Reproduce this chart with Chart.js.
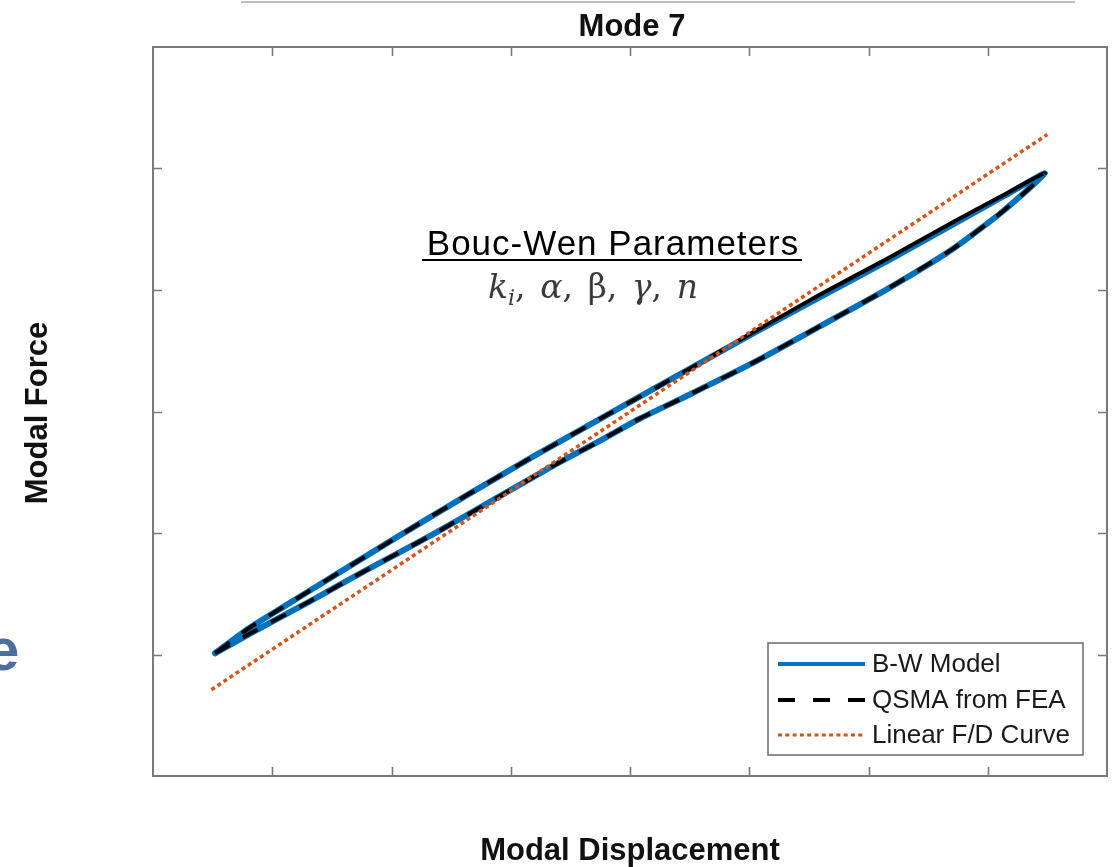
<!DOCTYPE html>
<html>
<head>
<meta charset="utf-8">
<title>Mode 7</title>
<script src="https://cdn.jsdelivr.net/npm/chart.js@4.4.1/dist/chart.umd.min.js"></script>
<style>
  html, body { margin: 0; padding: 0; background: #fff; overflow: hidden; }
  canvas { display: block; }
</style>
</head>
<body>
<canvas id="grafico" width="1115" height="867"></canvas>
<script>
// DATOS: rama inferior (carga) y superior (descarga) del lazo
const desplInf = [0.52, 0.81, 1.32, 1.80, 2.35, 2.85, 3.35, 3.75, 4.08, 4.48, 5.03, 5.59, 6.16, 6.71, 7.13, 7.48];
const desplSup = [0.52, 0.81, 1.09, 1.57, 2.07, 2.63, 3.19, 3.75, 4.48, 5.03, 5.59, 6.16, 6.71, 7.13, 7.48];

const fuerzaInfBW = [1.01, 1.17, 1.44, 1.70, 1.99, 2.27, 2.55, 2.76, 2.94, 3.13, 3.40, 3.70, 4.01, 4.34, 4.65, 4.96];
const fuerzaSupBW = [1.01, 1.22, 1.39, 1.68, 1.98, 2.31, 2.63, 2.94, 3.34, 3.64, 3.94, 4.24, 4.54, 4.77, 4.96];

const fuerzaInfQSMA = [1.01, 1.17, 1.44, 1.70, 1.99, 2.27, 2.55, 2.76, 2.94, 3.13, 3.40, 3.70, 4.01, 4.34, 4.65, 4.96];
const fuerzaSupQSMA = [1.01, 1.22, 1.39, 1.68, 1.98, 2.31, 2.63, 2.94, 3.34, 3.65, 3.96, 4.26, 4.56, 4.78, 4.96];

// recta F/D lineal
const desplLineal = [0.49, 7.50];
const fuerzaLineal = [0.71, 5.28];

const ticksX = [1, 2, 3, 4, 5, 6, 7];
const ticksY = [1, 2, 3, 4, 5];

// FUNCIONES:
function lazo(xInf, yInf, xSup, ySup) {
    const puntos = xInf.map((x, i) => ({ x: x, y: yInf[i] }));
    for (let i = xSup.length - 2; i >= 0; i--) {
        puntos.push({ x: xSup[i], y: ySup[i] });
    }
    return puntos;
}

function recta(xs, ys) {
    return xs.map((x, i) => ({ x: x, y: ys[i] }));
}

// tramo de vuelta (rama superior, lado derecho) que se ve continuo
const inicioVuelta = desplInf.length - 1;
function tramoContinuo(ctx) {
    if (ctx.p0DataIndex >= inicioVuelta && ctx.p1DataIndex <= inicioVuelta + 5) return [];
    return undefined;
}

const GRIS = '#7a7a7a';

const marco = {
    id: 'marco',
    afterDatasetsDraw(chart) {
        const c = chart.ctx;
        const a = chart.chartArea;
        const sx = chart.scales.x;
        const sy = chart.scales.y;
        c.save();
        c.strokeStyle = GRIS;
        c.lineWidth = 2;
        c.setLineDash([]);
        c.strokeRect(a.left, a.top, a.right - a.left, a.bottom - a.top);

        // marcas hacia dentro en los cuatro lados
        const largo = 9;
        c.beginPath();
        ticksX.forEach(v => {
            const px = Math.round(sx.getPixelForValue(v)) + 0.5;
            c.moveTo(px, a.bottom); c.lineTo(px, a.bottom - largo);
            c.moveTo(px, a.top); c.lineTo(px, a.top + largo);
        });
        ticksY.forEach(v => {
            const py = Math.round(sy.getPixelForValue(v)) + 0.5;
            c.moveTo(a.left, py); c.lineTo(a.left + largo, py);
            c.moveTo(a.right, py); c.lineTo(a.right - largo, py);
        });
        c.lineWidth = 1.6;
        c.stroke();

        // leyenda
        const L = { x: 768, y: 643, w: 315, h: 112 };
        c.fillStyle = '#fff';
        c.fillRect(L.x, L.y, L.w, L.h);
        c.strokeStyle = '#6a6a6a';
        c.lineWidth = 1.5;
        c.strokeRect(L.x, L.y, L.w, L.h);
        const filas = [664, 700, 735];
        c.font = '26px "Liberation Sans", Arial, sans-serif';
        c.textBaseline = 'middle';
        chart.data.datasets.forEach((ds, i) => {
            const y = filas[i];
            c.beginPath();
            c.strokeStyle = ds.borderColor;
            c.lineWidth = ds.legendaAncho;
            c.setLineDash(ds.legendaTrazo);
            c.lineCap = 'butt';
            c.moveTo(778, y);
            c.lineTo(865, y);
            c.stroke();
            c.setLineDash([]);
            c.fillStyle = '#1a1a1a';
            c.fillText(ds.label, 872, y + 1);
        });
        c.restore();
    },
    afterDraw(chart) {
        const c = chart.ctx;
        c.save();

        // restos del encabezado de la diapositiva
        c.strokeStyle = '#bdbdbd';
        c.lineWidth = 2;
        c.beginPath();
        c.moveTo(241, 2); c.lineTo(1075, 2);
        c.stroke();

        c.fillStyle = '#4d6f9f';
        c.font = 'bold 60px "Liberation Sans", Arial, sans-serif';
        c.textAlign = 'left';
        c.textBaseline = 'alphabetic';
        c.fillText('e', -14, 670);

        // título y ejes
        c.fillStyle = '#111';
        c.textAlign = 'center';
        c.font = 'bold 31px "Liberation Sans", Arial, sans-serif';
        c.fillText('Mode 7', 632, 36);
        c.fillText('Modal Displacement', 630, 860);
        c.save();
        c.translate(47, 413);
        c.rotate(-Math.PI / 2);
        c.fillText('Modal Force', 0, 0);
        c.restore();

        // anotación de parámetros
        c.font = '35px "Liberation Sans", Arial, sans-serif';
        c.letterSpacing = '1px';
        c.fillStyle = '#000';
        c.fillText('Bouc-Wen Parameters', 613, 255);
        c.letterSpacing = '0px';
        c.fillRect(422, 259, 380, 2);

        const serif = '"DejaVu Serif", "Liberation Serif", serif';
        const partes = [
            { t: 'k', f: 'italic 33px ' + serif, dy: 0, sep: 0 },
            { t: 'i', f: 'italic 22px ' + serif, dy: 7, sep: 0 },
            { t: ',', f: '33px ' + serif, dy: 0, sep: 1 },
            { t: 'α', f: 'italic 33px ' + serif, dy: 0, sep: 0 },
            { t: ',', f: '33px ' + serif, dy: 0, sep: 1 },
            { t: 'β', f: '33px ' + serif, dy: 0, sep: 0 },
            { t: ',', f: '33px ' + serif, dy: 0, sep: 1 },
            { t: 'γ', f: 'italic 33px ' + serif, dy: 0, sep: 0 },
            { t: ',', f: '33px ' + serif, dy: 0, sep: 1 },
            { t: 'n', f: 'italic 33px ' + serif, dy: 0, sep: 0 }
        ];
        let glifos = 0;
        partes.forEach(p => { c.font = p.f; p.w = c.measureText(p.t).width; glifos += p.w; });
        const anchoTotal = 210;
        const hueco = Math.max(4, (anchoTotal - glifos) / 4);
        let x = 488;
        c.textAlign = 'left';
        c.fillStyle = '#3a3a3a';
        partes.forEach(p => {
            c.font = p.f;
            c.fillText(p.t, x, 298 + p.dy);
            x += p.w + p.sep * hueco;
        });
        c.restore();
    }
};

const ctx = document.getElementById('grafico').getContext('2d');

new Chart(ctx, {
    type: 'scatter',
    data: {
        datasets: [
            {
                label: 'B-W Model',
                data: lazo(desplInf, fuerzaInfBW, desplSup, fuerzaSupBW),
                showLine: true,
                borderColor: '#0072BD',
                borderWidth: 6,
                borderCapStyle: 'round',
                borderJoinStyle: 'round',
                tension: 0.2,
                pointRadius: 0,
                order: 3,
                legendaAncho: 4,
                legendaTrazo: []
            },
            {
                label: 'QSMA from FEA',
                data: lazo(desplInf, fuerzaInfQSMA, desplSup, fuerzaSupQSMA),
                showLine: true,
                borderColor: '#000000',
                borderWidth: 4,
                borderDash: [17, 15],
                tension: 0.2,
                pointRadius: 0,
                order: 2,
                segment: { borderDash: tramoContinuo },
                legendaAncho: 4,
                legendaTrazo: [17, 18]
            },
            {
                label: 'Linear F/D Curve',
                data: recta(desplLineal, fuerzaLineal),
                showLine: true,
                borderColor: '#D95319',
                borderWidth: 3.5,
                borderDash: [4, 3.3],
                pointRadius: 0,
                order: 1,
                legendaAncho: 3,
                legendaTrazo: [4, 3.3]
            }
        ]
    },
    options: {
        responsive: false,
        devicePixelRatio: 1,
        animation: false,
        layout: { padding: { left: 153, right: 8, top: 47, bottom: 91 } },
        scales: {
            x: { type: 'linear', min: 0, max: 8, display: false },
            y: { type: 'linear', min: 0, max: 6, display: false }
        },
        plugins: {
            legend: { display: false },
            tooltip: { enabled: false }
        }
    },
    plugins: [marco]
});
</script>
</body>
</html>
